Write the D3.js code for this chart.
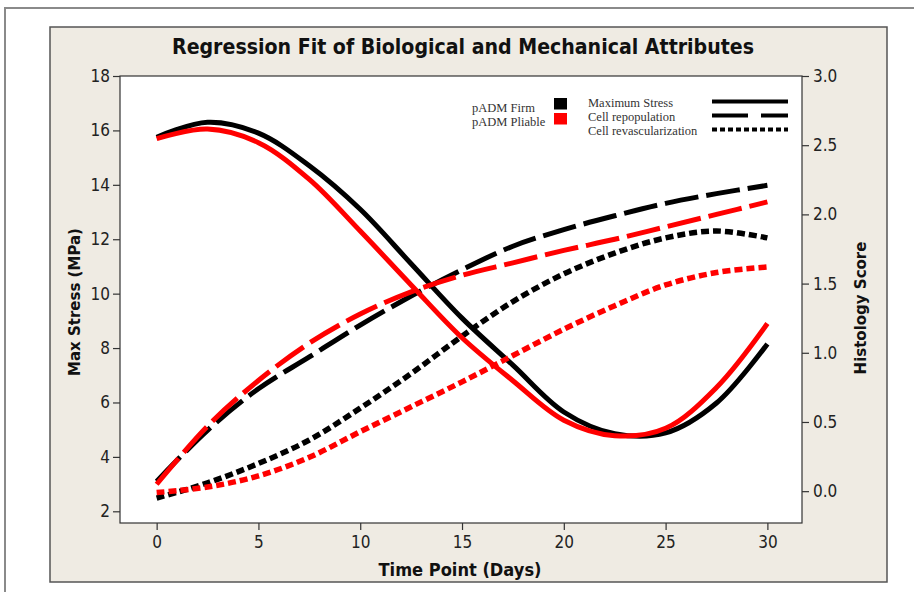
<!DOCTYPE html>
<html>
<head>
<meta charset="utf-8">
<script src="https://cdn.jsdelivr.net/npm/d3@7"></script>
<style>
  body { margin: 0; background: #fff; }
  svg { display: block; }
</style>
</head>
<body>
<script>
// values
const days = [0, 2.5, 5, 7.5, 10, 12.5, 15, 17.5, 20, 22.5, 25, 27.5, 30];
const stressFirm    = [15.75, 16.3, 15.9, 14.7, 13.1, 11.1, 9.1, 7.37, 5.65, 4.85, 4.88, 5.98, 8.15];
const stressPliable = [15.7, 16.05, 15.55, 14.2, 12.3, 10.32, 8.38, 6.8, 5.35, 4.78, 5.05, 6.55, 8.9];
const repopFirm     = [0.07, 0.44, 0.74, 0.97, 1.2, 1.41, 1.6, 1.77, 1.89, 1.99, 2.08, 2.15, 2.21];
const repopPliable  = [0.05, 0.47, 0.8, 1.07, 1.28, 1.44, 1.56, 1.65, 1.74, 1.82, 1.91, 2.0, 2.09];
const revascFirm    = [-0.05, 0.06, 0.2, 0.37, 0.6, 0.85, 1.12, 1.37, 1.57, 1.72, 1.83, 1.88, 1.83];
const revascPliable = [-0.01, 0.03, 0.11, 0.245, 0.43, 0.61, 0.79, 0.98, 1.17, 1.34, 1.49, 1.58, 1.62];

const xTicks = [0, 5, 10, 15, 20, 25, 30];
const leftTicks = [2, 4, 6, 8, 10, 12, 14, 16, 18];
const rightTicks = [0, 0.5, 1, 1.5, 2, 2.5, 3];

const groups = ["pADM Firm", "pADM Pliable"];
const groupColors = ["#000000", "#ff0000"];
const measures = ["Maximum Stress", "Cell repopulation", "Cell revascularization"];

const width = 914, height = 592;
const plot = {left: 120, right: 802, top: 76, bottom: 523};
const bg = "#efebe3";
const axisColor = "#333";
const tickFont = "'DejaVu Sans Condensed', 'DejaVu Sans', sans-serif";
const boldFont = "'DejaVu Sans Condensed', 'DejaVu Sans', sans-serif";

const dashFor = {
    "Maximum Stress": null,
    "Cell repopulation": "34,8",
    "Cell revascularization": "8,4"
};

const svg = d3.select("body").append("svg")
    .attr("width", width)
    .attr("height", height);

// outer frame and beige panel
svg.append("rect")
    .attr("x", 5).attr("y", 8)
    .attr("width", width).attr("height", height)
    .attr("fill", "#fff")
    .attr("stroke", "#8a8a8a")
    .attr("stroke-width", 2);

svg.append("rect")
    .attr("x", 50).attr("y", 27)
    .attr("width", 837).attr("height", 555)
    .attr("fill", bg)
    .attr("stroke", "#555")
    .attr("stroke-width", 1.5);

svg.append("rect")
    .attr("x", plot.left).attr("y", plot.top)
    .attr("width", plot.right - plot.left)
    .attr("height", plot.bottom - plot.top)
    .attr("fill", "#fff");

const x = d3.scaleLinear().domain([-1.8, 31.7]).range([plot.left, plot.right]);
const yL = d3.scaleLinear().domain([1.57, 18]).range([plot.bottom, plot.top]);
const yR = d3.scaleLinear().domain([-0.23, 3.0]).range([plot.bottom, plot.top]);

// series
const series = [
    {group: 0, measure: "Maximum Stress", scale: yL, values: stressFirm},
    {group: 0, measure: "Cell repopulation", scale: yR, values: repopFirm},
    {group: 0, measure: "Cell revascularization", scale: yR, values: revascFirm},
    {group: 1, measure: "Maximum Stress", scale: yL, values: stressPliable},
    {group: 1, measure: "Cell repopulation", scale: yR, values: repopPliable},
    {group: 1, measure: "Cell revascularization", scale: yR, values: revascPliable}
];

const lines = svg.append("g");
series.forEach(s => {
    const line = d3.line()
        .x((d, i) => x(days[i]))
        .y(d => s.scale(d))
        .curve(d3.curveCatmullRom.alpha(0.5));
    lines.append("path")
        .datum(s.values)
        .attr("d", line)
        .attr("fill", "none")
        .attr("stroke", groupColors[s.group])
        .attr("stroke-width", s.measure == "Cell revascularization" ? 5.5 : 5)
        .attr("stroke-dasharray", dashFor[s.measure]);
});

// plot frame
svg.append("rect")
    .attr("x", plot.left).attr("y", plot.top)
    .attr("width", plot.right - plot.left)
    .attr("height", plot.bottom - plot.top)
    .attr("fill", "none")
    .attr("stroke", axisColor)
    .attr("stroke-width", 1.2);

function styleAxis(g) {
    g.select(".domain").remove();
    g.selectAll(".tick line").attr("stroke", axisColor).attr("stroke-width", 1.2);
    g.selectAll(".tick text")
        .attr("fill", "#222")
        .style("font-family", tickFont)
        .style("font-size", "17px");
}

svg.append("g")
    .attr("transform", `translate(0,${plot.bottom})`)
    .call(d3.axisBottom(x).tickValues(xTicks).tickSize(7).tickPadding(6))
    .call(styleAxis);

svg.append("g")
    .attr("transform", `translate(${plot.left},0)`)
    .call(d3.axisLeft(yL).tickValues(leftTicks).tickSize(7).tickPadding(3))
    .call(styleAxis);

svg.append("g")
    .attr("transform", `translate(${plot.right},0)`)
    .call(d3.axisRight(yR).tickValues(rightTicks).tickSize(7).tickPadding(4).tickFormat(d3.format(".1f")))
    .call(styleAxis);

// titles
svg.append("text")
    .attr("x", 463).attr("y", 54)
    .attr("text-anchor", "middle")
    .attr("textLength", 582)
    .attr("lengthAdjust", "spacingAndGlyphs")
    .style("font-family", boldFont)
    .style("font-weight", "bold")
    .style("font-size", "21px")
    .attr("fill", "#111")
    .text("Regression Fit of Biological and Mechanical Attributes");

svg.append("text")
    .attr("x", 460).attr("y", 576)
    .attr("text-anchor", "middle")
    .attr("textLength", 163)
    .attr("lengthAdjust", "spacingAndGlyphs")
    .style("font-family", boldFont)
    .style("font-weight", "bold")
    .style("font-size", "17px")
    .attr("fill", "#111")
    .text("Time Point (Days)");

svg.append("text")
    .attr("transform", "translate(80,302) rotate(-90)")
    .attr("text-anchor", "middle")
    .style("font-family", "'DejaVu Sans', sans-serif")
    .style("font-weight", "bold")
    .style("font-size", "15px")
    .attr("fill", "#111")
    .text("Max Stress (MPa)");

svg.append("text")
    .attr("transform", "translate(866,308) rotate(-90)")
    .attr("text-anchor", "middle")
    .style("font-family", "'DejaVu Sans', sans-serif")
    .style("font-weight", "bold")
    .style("font-size", "15px")
    .attr("fill", "#111")
    .text("Histology Score");

// legend
const legend = svg.append("g")
    .style("font-family", "'Liberation Serif', 'Times New Roman', serif")
    .style("font-size", "12.5px")
    .attr("fill", "#333");

groups.forEach((g, i) => {
    legend.append("text")
        .attr("x", 472).attr("y", 112 + i * 14)
        .text(g);
    legend.append("rect")
        .attr("x", 554).attr("y", 98 + i * 15)
        .attr("width", 13).attr("height", 11.5)
        .attr("fill", groupColors[i]);
});

measures.forEach((m, i) => {
    legend.append("text")
        .attr("x", 588).attr("y", 107 + i * 14)
        .text(m);
    legend.append("line")
        .attr("x1", 712).attr("x2", 788)
        .attr("y1", 101.5 + i * 14).attr("y2", 101.5 + i * 14)
        .attr("stroke", "#000")
        .attr("stroke-width", 4)
        .attr("stroke-dasharray", m == "Cell repopulation" ? "36,13" : (m == "Cell revascularization" ? "5,3" : null));
});
</script>
</body>
</html>
